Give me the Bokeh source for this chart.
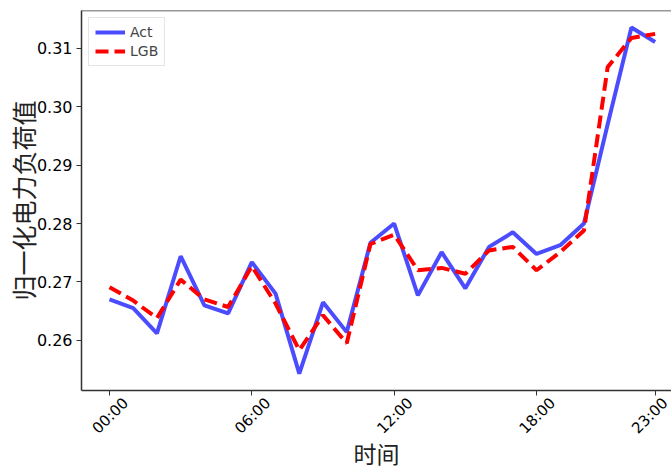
import math
from bokeh.plotting import figure
from bokeh.models import (FixedTicker, Range1d, Span, Legend, LegendItem, LinearAxis)
from bokeh.embed import file_html
from bokeh.resources import INLINE

hours = list(range(24))
tick_hours = [0, 6, 12, 18, 23]
tick_labels = ["00:00", "06:00", "12:00", "18:00", "23:00"]
y_ticks = [0.26, 0.27, 0.28, 0.29, 0.30, 0.31]
y_tick_labels = ["0.26", "0.27", "0.28", "0.29", "0.30", "0.31"]

act = [0.2670, 0.2655, 0.2612, 0.2744, 0.2660, 0.2646, 0.2734, 0.2680,
       0.2543, 0.2665, 0.2614, 0.2767, 0.2800, 0.2677, 0.2751, 0.2689,
       0.2760, 0.2785, 0.2748, 0.2763, 0.2800, 0.2970, 0.3136, 0.3111]
lgb = [0.2691, 0.2668, 0.2638, 0.2704, 0.2670, 0.2657, 0.2727, 0.2663,
       0.2583, 0.2643, 0.2595, 0.2765, 0.2781, 0.2720, 0.2724, 0.2714,
       0.2754, 0.2760, 0.2720, 0.2751, 0.2788, 0.3068, 0.3118, 0.3125]

X0, X1 = -1.18, 23.69
Y0, Y1 = 0.2514, 0.3165
SHIFT = 0.68  # label shift (hours) so rotated labels sit centred on ticks

p = figure(width=671, height=473, output_backend="svg", toolbar_location=None,
           x_range=Range1d(X0, X1), y_range=Range1d(Y0, Y1),
           min_border_left=81, min_border_top=10, min_border_right=0,
           min_border_bottom=83, x_axis_location=None)
p.outline_line_color = None
p.grid.grid_line_color = None
p.background_fill_color = "white"
p.border_fill_color = "white"
p.extra_x_ranges = {"lab": Range1d(X0 - SHIFT, X1 - SHIFT)}

r1 = p.line(hours, act, line_color="blue", line_alpha=0.7, line_width=4)
r2 = p.line(hours, lgb, line_color="red", line_width=4, line_dash="13 6")

p.add_layout(Span(location=Y1, dimension="width", line_color="#333333", line_width=1.5))

# tick-mark axis (no labels)
xa = LinearAxis(ticker=FixedTicker(ticks=tick_hours))
xa.major_label_overrides = {h: "" for h in tick_hours}
xa.major_label_standoff = 0
xa.major_label_text_font_size = "15px"
# label axis (shifted range, no tick marks)
xl = LinearAxis(x_range_name="lab", ticker=FixedTicker(ticks=tick_hours))
xl.major_label_overrides = {h: l for h, l in zip(tick_hours, tick_labels)}
xl.major_label_orientation = math.pi / 4
xl.major_tick_out = 0
xl.major_tick_in = 0
xl.axis_line_color = None
xl.major_label_standoff = 5
xl.major_label_text_font_size = "15px"
xl.axis_label = "时间"
xl.axis_label_standoff = -11
p.add_layout(xa, "below")
p.add_layout(xl, "below")

p.yaxis.ticker = FixedTicker(ticks=y_ticks)
p.yaxis.major_label_overrides = {v: l for v, l in zip(y_ticks, y_tick_labels)}
p.yaxis.major_label_text_font_size = "16px"
p.yaxis.major_label_standoff = 4
p.yaxis.axis_label = "归一化电力负荷值"
p.yaxis.axis_label_standoff = -7

for ax in (xa, xl, p.yaxis[0]):
    ax.minor_tick_line_color = None
    ax.major_label_text_font = "DejaVu Sans"
    ax.major_label_text_color = "black"
    ax.axis_label_text_font = "Noto Sans CJK SC"
    ax.axis_label_text_font_size = "25px"
    ax.axis_label_text_font_style = "normal"
    ax.axis_label_text_color = "#222222"
xl.axis_label_text_font_size = "23px"
for ax in (xa, p.yaxis[0]):
    ax.major_tick_in = 0
    ax.major_tick_out = 5
    ax.major_tick_line_color = "#333333"
    ax.axis_line_color = "#333333"
    ax.axis_line_width = 1.5

legend = Legend(items=[LegendItem(label="Act", renderers=[r1]),
                       LegendItem(label="LGB", renderers=[r2])],
                location="top_left")
legend.label_text_font = "DejaVu Sans"
legend.label_text_font_size = "14px"
legend.glyph_width = 30
legend.glyph_height = 14
legend.label_height = 14
legend.spacing = 3
legend.padding = 6
legend.margin = 7
legend.border_line_color = "#cccccc"
legend.border_line_width = 1
legend.background_fill_alpha = 0.8
p.add_layout(legend)

open("out.html", "w").write(file_html(p, INLINE))
